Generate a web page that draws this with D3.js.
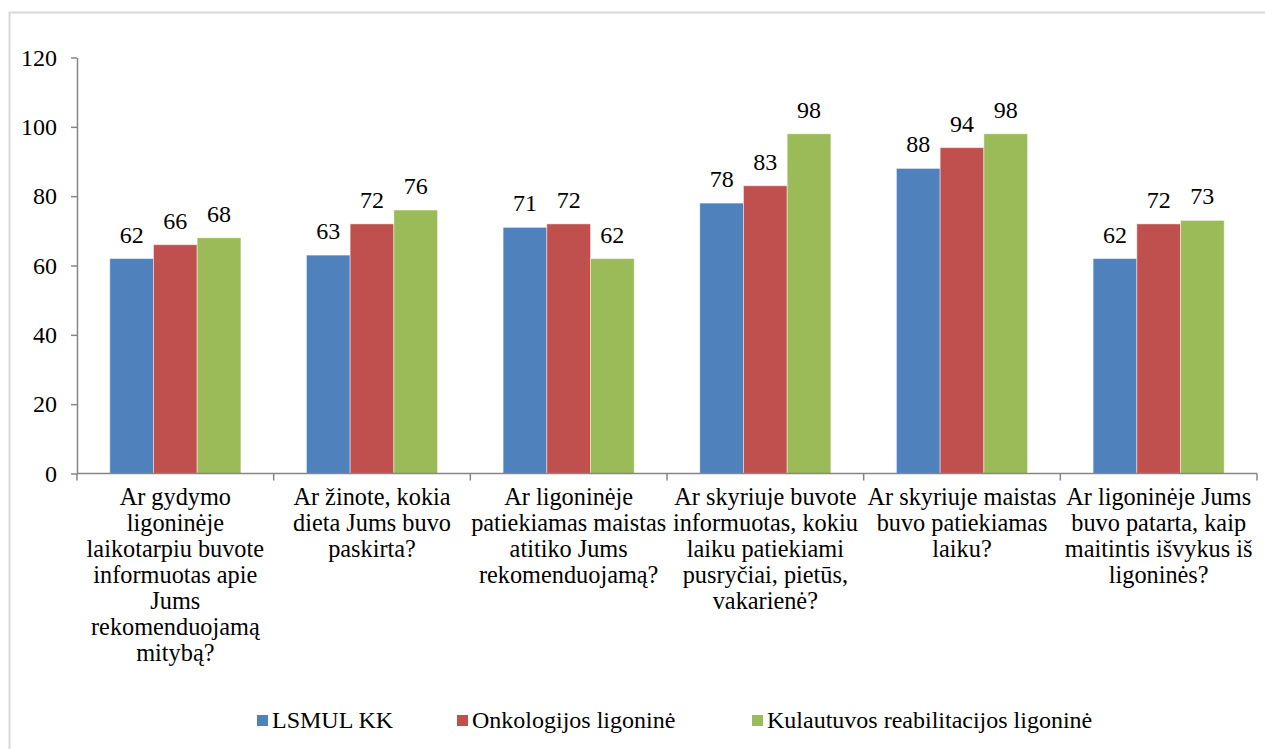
<!doctype html>
<html>
<head>
	<meta charset="UTF-8">
	<title>Mityba ligoninėje</title>
	<script src="https://d3js.org/d3.v7.min.js"></script>
	<style>
		body { margin: 0; background: #fff; }
	</style>
</head>
<body>
<script>
	// data
	var questions = [
		["Ar gydymo", "ligoninėje", "laikotarpiu buvote", "informuotas apie", "Jums", "rekomenduojamą", "mitybą?"],
		["Ar žinote, kokia", "dieta Jums buvo", "paskirta?"],
		["Ar ligoninėje", "patiekiamas maistas", "atitiko Jums", "rekomenduojamą?"],
		["Ar skyriuje buvote", "informuotas, kokiu", "laiku patiekiami", "pusryčiai, pietūs,", "vakarienė?"],
		["Ar skyriuje maistas", "buvo patiekiamas", "laiku?"],
		["Ar ligoninėje Jums", "buvo patarta, kaip", "maitintis išvykus iš", "ligoninės?"]
	];
	var seriesNames = ["LSMUL KK", "Onkologijos ligoninė", "Kulautuvos reabilitacijos ligoninė"];
	var lsmul = [62, 63, 71, 78, 88, 62];
	var onkologijos = [66, 72, 72, 83, 94, 72];
	var kulautuvos = [68, 76, 62, 98, 98, 73];
	var yTicks = [0, 20, 40, 60, 80, 100, 120];
	var colours = ["#4F81BD", "#C0504D", "#9BBB59"];

	var seriesValues = [lsmul, onkologijos, kulautuvos];

	// layout
	var W = 1265, H = 749;
	var plotLeft = 77, plotRight = 1257, plotTop = 57.5, plotBottom = 473.5;
	var legendX = [257, 457, 752];
	var font = "'Liberation Serif', 'Times New Roman', serif";

	var svg = d3.select("body").append("svg")
		.attr("width", W)
		.attr("height", H)
		.attr("font-family", font);

	// chart border (only top and left visible in the picture)
	svg.append("rect")
		.attr("x", 9.5).attr("y", 12.5)
		.attr("width", 1300).attr("height", 800)
		.attr("fill", "none")
		.attr("stroke", "#d9d9d9")
		.attr("stroke-width", 2);

	var idx = d3.range(questions.length);

	var x0 = d3.scaleBand().domain(idx).range([plotLeft, plotRight]).padding(0);
	var bw = x0.bandwidth();
	var x1 = d3.scaleBand().domain(d3.range(seriesNames.length))
		.range([bw / 6, bw * 5 / 6]).padding(0);
	var y = d3.scaleLinear().domain([0, 120]).range([plotBottom, plotTop]);

	// bars
	var groups = svg.append("g").selectAll("g")
		.data(idx)
		.enter().append("g")
		.attr("transform", function(i) { return "translate(" + x0(i) + ",0)"; });

	groups.selectAll("rect")
		.data(function(i) { return seriesValues.map(function(s, k) { return {k: k, v: s[i]}; }); })
		.enter().append("rect")
		.attr("x", function(d) { return x1(d.k); })
		.attr("y", function(d) { return y(d.v); })
		.attr("width", x1.bandwidth())
		.attr("height", function(d) { return y(0) - y(d.v); })
		.attr("fill", function(d) { return colours[d.k]; })
		.attr("stroke", "rgba(255,255,255,0.45)")
		.attr("stroke-width", 1);

	// value labels
	groups.selectAll("text")
		.data(function(i) { return seriesValues.map(function(s, k) { return {k: k, v: s[i]}; }); })
		.enter().append("text")
		.attr("x", function(d) { return x1(d.k) + x1.bandwidth() / 2; })
		.attr("y", function(d) { return y(d.v) - 16; })
		.attr("text-anchor", "middle")
		.attr("font-family", font)
		.attr("font-size", 24)
		.text(function(d) { return d.v; });

	// y axis
	var yAxis = svg.append("g")
		.attr("transform", "translate(" + plotLeft + ",0)")
		.call(d3.axisLeft(y).tickValues(yTicks).tickSize(6).tickSizeOuter(0).tickPadding(14));
	yAxis.attr("font-family", font).attr("font-size", 24);

	// x axis with ticks between categories
	var xAxis = svg.append("g")
		.attr("transform", "translate(0," + plotBottom + ")");
	xAxis.append("line")
		.attr("x1", plotLeft).attr("x2", plotRight)
		.attr("y1", 0).attr("y2", 0);
	xAxis.selectAll("line.tick")
		.data(idx.concat([questions.length]))
		.enter().append("line")
		.attr("class", "tick")
		.attr("x1", function(i) { return i < questions.length ? x0(i) : plotRight; })
		.attr("x2", function(i) { return i < questions.length ? x0(i) : plotRight; })
		.attr("y1", 0).attr("y2", 7);

	svg.selectAll(".domain, .tick line, g line")
		.attr("stroke", "#868686")
		.attr("stroke-width", 1.5);

	// category labels
	var catLabels = svg.append("g").selectAll("text")
		.data(idx)
		.enter().append("text")
		.attr("text-anchor", "middle")
		.attr("font-family", font)
		.attr("font-size", 24.3)
		.attr("transform", function(i) { return "translate(" + (x0(i) + bw / 2) + "," + (plotBottom + 31) + ")"; });
	catLabels.selectAll("tspan")
		.data(function(i) { return questions[i]; })
		.enter().append("tspan")
		.attr("x", 0)
		.attr("dy", function(d, j) { return j === 0 ? 0 : 26; })
		.text(function(d) { return d; });

	// legend
	var legend = svg.append("g").selectAll("g")
		.data(seriesNames)
		.enter().append("g")
		.attr("transform", function(d, k) { return "translate(" + legendX[k] + ",715)"; });
	legend.append("rect")
		.attr("width", 11).attr("height", 11)
		.attr("fill", function(d, k) { return colours[k]; });
	legend.append("text")
		.attr("x", 15)
		.attr("y", 13)
		.attr("font-family", font)
		.attr("font-size", 24)
		.text(function(d) { return d; });
</script>
</body>
</html>
